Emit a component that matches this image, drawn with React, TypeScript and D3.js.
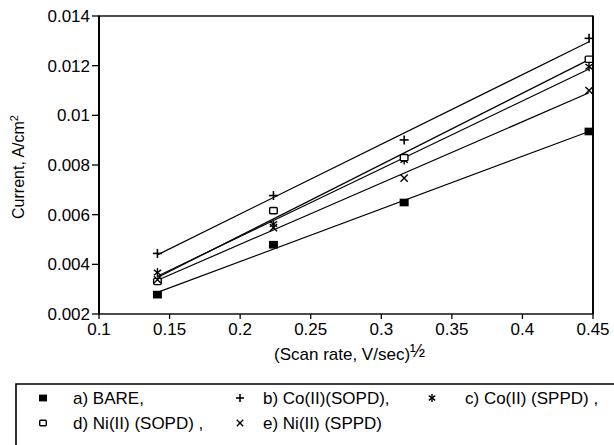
import React from 'react';
import * as d3 from 'd3';

// scan rate^(1/2) for 0.02, 0.05, 0.1 and 0.2 V/s
const scanRate = [0.1414, 0.2236, 0.3162, 0.4472];

const bare = [0.00278, 0.00479, 0.00649, 0.00935];
const coSopd = [0.00444, 0.00677, 0.00901, 0.0131];
const coSppd = [0.00367, 0.00562, 0.0082, 0.01196];
const niSopd = [0.00331, 0.00616, 0.0083, 0.01226];
const niSppd = [0.00338, 0.00548, 0.00747, 0.011];

const seriesNames = ['a) BARE,', 'b) Co(II)(SOPD),', 'c) Co(II) (SPPD) ,', 'd) Ni(II) (SOPD) ,', 'e) Ni(II) (SPPD)'];
const seriesMarkers = ['fsquare', 'plus', 'star', 'osquare', 'cross'];
const seriesValues = [bare, coSopd, coSppd, niSopd, niSppd];

const xTicks = [0.1, 0.15, 0.2, 0.25, 0.3, 0.35, 0.4, 0.45];
const xTickLabels = ['0.1', '0.15', '0.2', '0.25', '0.3', '0.35', '0.4', '0.45'];
const yTicks = [0.002, 0.004, 0.006, 0.008, 0.01, 0.012, 0.014];
const yTickLabels = ['0.002', '0.004', '0.006', '0.008', '0.01', '0.012', '0.014'];

const W = 614;
const H = 445;
const plot = { left: 99, right: 593, top: 16, bottom: 314 };
const font = '"Liberation Sans", Arial, sans-serif';

// least squares straight line through one series
function fit(xs: number[], ys: number[]) {
  const mx = d3.mean(xs)!;
  const my = d3.mean(ys)!;
  const sxy = d3.sum(xs, (x, i) => (x - mx) * (ys[i] - my));
  const sxx = d3.sum(xs, (x) => (x - mx) * (x - mx));
  const slope = sxy / sxx;
  return (x: number) => my + slope * (x - mx);
}

function Marker({ kind, x, y, s }: { kind: string; x: number; y: number; s: number }) {
  const h = s / 2;
  switch (kind) {
    case 'fsquare':
      return <rect x={x - h} y={y - h * 0.85} width={s} height={s * 0.85} fill="#000" />;
    case 'osquare':
      return <rect x={x - h + 0.7} y={y - h * 0.85 + 0.7} width={s - 1.4} height={s * 0.85 - 1.4} fill="#fff" stroke="#000" strokeWidth={1.4} rx={1} />;
    case 'plus':
      return (
        <g stroke="#000" strokeWidth={1.6}>
          <line x1={x - h} x2={x + h} y1={y} y2={y} />
          <line x1={x} x2={x} y1={y - h} y2={y + h} />
        </g>
      );
    case 'cross':
      return (
        <g stroke="#000" strokeWidth={1.4}>
          <line x1={x - h * 0.8} x2={x + h * 0.8} y1={y - h * 0.8} y2={y + h * 0.8} />
          <line x1={x - h * 0.8} x2={x + h * 0.8} y1={y + h * 0.8} y2={y - h * 0.8} />
        </g>
      );
    default:
      return (
        <g stroke="#000" strokeWidth={1.4}>
          <line x1={x - h * 0.8} x2={x + h * 0.8} y1={y - h * 0.6} y2={y + h * 0.6} />
          <line x1={x - h * 0.8} x2={x + h * 0.8} y1={y + h * 0.6} y2={y - h * 0.6} />
          <line x1={x} x2={x} y1={y - h} y2={y + h} />
        </g>
      );
  }
}

export default function App() {
  const x = d3.scaleLinear().domain([0.1, 0.45]).range([plot.left, plot.right]);
  const y = d3.scaleLinear().domain([0.002, 0.014]).range([plot.bottom, plot.top]);

  const line = d3
    .line<number>()
    .x((d) => x(d))
    .y((d) => d);

  const x0 = scanRate[0];
  const x1 = scanRate[scanRate.length - 1];

  const legendCols = [43, 240, 432];
  const legendText = [73, 263, 465];
  const legendRows = [398, 423];

  return (
    <svg width={W} height={H} style={{ position: 'absolute', left: 0, top: 0, background: '#fff' }} fontFamily={font}>
      <rect width={W} height={H} fill="#fff" />

      {/* fitted lines */}
      {seriesValues.map((vals, i) => {
        const f = fit(scanRate, vals);
        const pts = [x0, x1];
        const path = d3
          .line<number>()
          .x((d) => x(d))
          .y((d) => y(f(d)))(pts);
        return <path key={'l' + i} d={path || ''} fill="none" stroke="#000" strokeWidth={1.2} />;
      })}

      {/* points */}
      {seriesValues.map((vals, i) =>
        vals.map((v, j) => (
          <Marker key={'m' + i + '-' + j} kind={seriesMarkers[i]} x={x(scanRate[j])} y={y(v)} s={9} />
        ))
      )}

      {/* frame */}
      <rect x={plot.left} y={plot.top} width={plot.right - plot.left} height={plot.bottom - plot.top} fill="none" stroke="#000" strokeWidth={1.4} />
      <line x1={plot.left} x2={plot.left} y1={plot.top} y2={plot.bottom} stroke="#000" strokeWidth={2} />
      <line x1={plot.right} x2={plot.right} y1={plot.top} y2={plot.bottom} stroke="#000" strokeWidth={1.8} />

      {/* y axis */}
      {yTicks.map((t, i) => (
        <g key={'yt' + i}>
          <line x1={plot.left - 7} x2={plot.left} y1={y(t)} y2={y(t)} stroke="#000" strokeWidth={1.3} />
          <text x={plot.left - 9} y={y(t)} dy="0.36em" textAnchor="end" fontSize={17}>
            {yTickLabels[i]}
          </text>
        </g>
      ))}

      {/* x axis */}
      {xTicks.map((t, i) => (
        <g key={'xt' + i}>
          <line x1={x(t)} x2={x(t)} y1={plot.bottom} y2={plot.bottom + 5} stroke="#000" strokeWidth={1.3} />
          <text x={x(t)} y={335} textAnchor="middle" fontSize={17}>
            {xTickLabels[i]}
          </text>
        </g>
      ))}

      <text x={274} y={360} fontSize={17}>
        (Scan rate, V/sec)
        <tspan dy={-3} fontSize={18}>½</tspan>
      </text>

      <text transform={`translate(24,167) rotate(-90)`} textAnchor="middle" fontSize={16}>
        Current, A/cm
        <tspan dy={-6} fontSize={11}>2</tspan>
      </text>

      {/* legend */}
      <polyline points={`16,${H + 5} 16,384 ${W + 5},384`} fill="none" stroke="#000" strokeWidth={1.6} />
      {seriesNames.map((name, i) => {
        const col = i % 3;
        const row = Math.floor(i / 3);
        return (
          <g key={'lg' + i}>
            <Marker kind={seriesMarkers[i]} x={legendCols[col]} y={legendRows[row]} s={8} />
            <text x={legendText[col]} y={legendRows[row]} dy="0.36em" fontSize={17}>
              {name}
            </text>
          </g>
        );
      })}
    </svg>
  );
}
